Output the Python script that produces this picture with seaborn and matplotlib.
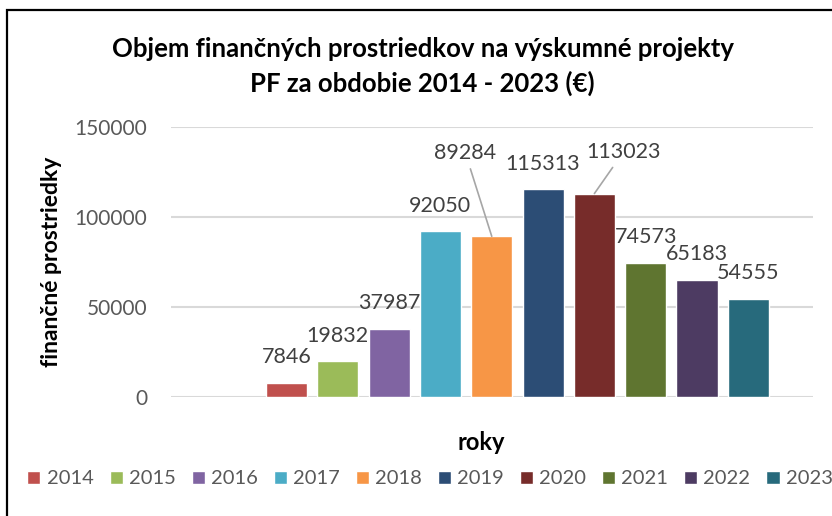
import matplotlib
matplotlib.use("Agg")
import matplotlib.pyplot as plt
import seaborn as sns
import pandas as pd
from matplotlib.patches import Rectangle

# data
years = ['2014', '2015', '2016', '2017', '2018', '2019', '2020', '2021', '2022', '2023']
values = [7846, 19832, 37987, 92050, 89284, 115313, 113023, 74573, 65183, 54555]
colors = ['#C0504D', '#9BBB59', '#8064A2', '#4BACC6', '#F79646',
          '#2C4D75', '#772C2A', '#5F7530', '#4D3B62', '#276A7C']
y_ticks = [0, 50000, 100000, 150000]

title = "Objem finančných prostriedkov na výskumné projekty\nPF za obdobie 2014 - 2023 (€)"
y_label = "finančné prostriedky"
x_label = "roky"

sns.set_theme(style="white")
plt.rcParams['font.family'] = ['Lato', 'DejaVu Sans']

df = pd.DataFrame({'rok': years, 'suma': values})

W, H = 832, 516
fig = plt.figure(figsize=(W / 100, H / 100), dpi=100)
ax = fig.add_axes([171 / W, 1 - 397 / H, (813 - 171) / W, (397 - 127) / H])

sns.barplot(data=df, x='rok', y='suma', hue='rok', palette=dict(zip(years, colors)),
            width=0.8, saturation=1, legend=True, ax=ax)

ax.set_xlim(-2.25, 10.26)
ax.set_ylim(0, 150000)
ax.set_yticks(y_ticks)
ax.set_yticklabels([str(t) for t in y_ticks], color='#595959', fontsize=15)
ax.tick_params(axis='y', length=0, pad=17)
ax.set_xticks([])
ax.set_xlabel('')
ax.set_ylabel('')
for s in ax.spines.values():
    s.set_visible(False)
ax.yaxis.grid(True, color='#D9D9D9', lw=1.5)
ax.set_axisbelow(True)

# data labels (two of them moved out with leader lines, as in the reference)
offsets = {'2018': (-19, 60), '2020': (21, 30)}
for i, (yr, v) in enumerate(zip(years, values)):
    if yr in offsets:
        ax.annotate(str(v), xy=(i, v), xytext=offsets[yr], textcoords='offset points',
                    ha='center', va='center', fontsize=15.5, color='#404040',
                    arrowprops=dict(arrowstyle='-', color='#A6A6A6', lw=1.2,
                                    shrinkA=2, shrinkB=0))
    else:
        ax.annotate(str(v), xy=(i, v), xytext=(0, 18.5), textcoords='offset points',
                    ha='center', va='center', fontsize=15.5, color='#404040')

fig.text(422.5 / W, 1 - 66.5 / H, title, ha='center', va='center',
         fontsize=18.5, fontweight='bold', linespacing=1.43, color='black')
fig.text(52 / W, 1 - 262 / H, y_label, rotation=90, ha='center', va='center',
         fontsize=16.5, fontweight='bold', color='black')
fig.text(481 / W, 1 - 442 / H, x_label, ha='center', va='center',
         fontsize=17, fontweight='bold', color='black')

handles, labels = ax.get_legend_handles_labels()
ax.legend_.remove()
leg = fig.legend(handles, labels, loc='center', bbox_to_anchor=(430 / W, 1 - 479 / H),
                 ncol=10, frameon=False, fontsize=14.5, handlelength=0.65,
                 handleheight=0.65, handletextpad=0.3, columnspacing=0.8,
                 borderaxespad=0, borderpad=0)
for t in leg.get_texts():
    t.set_color('#595959')

# chart frame, only top and left edges visible in the crop
fig.patches.append(Rectangle((7 / W, -0.2), 1.2, 1.2 - 10 / H, transform=fig.transFigure,
                             fill=False, edgecolor='black', lw=1.6))

fig.savefig('out.png', dpi=100)
